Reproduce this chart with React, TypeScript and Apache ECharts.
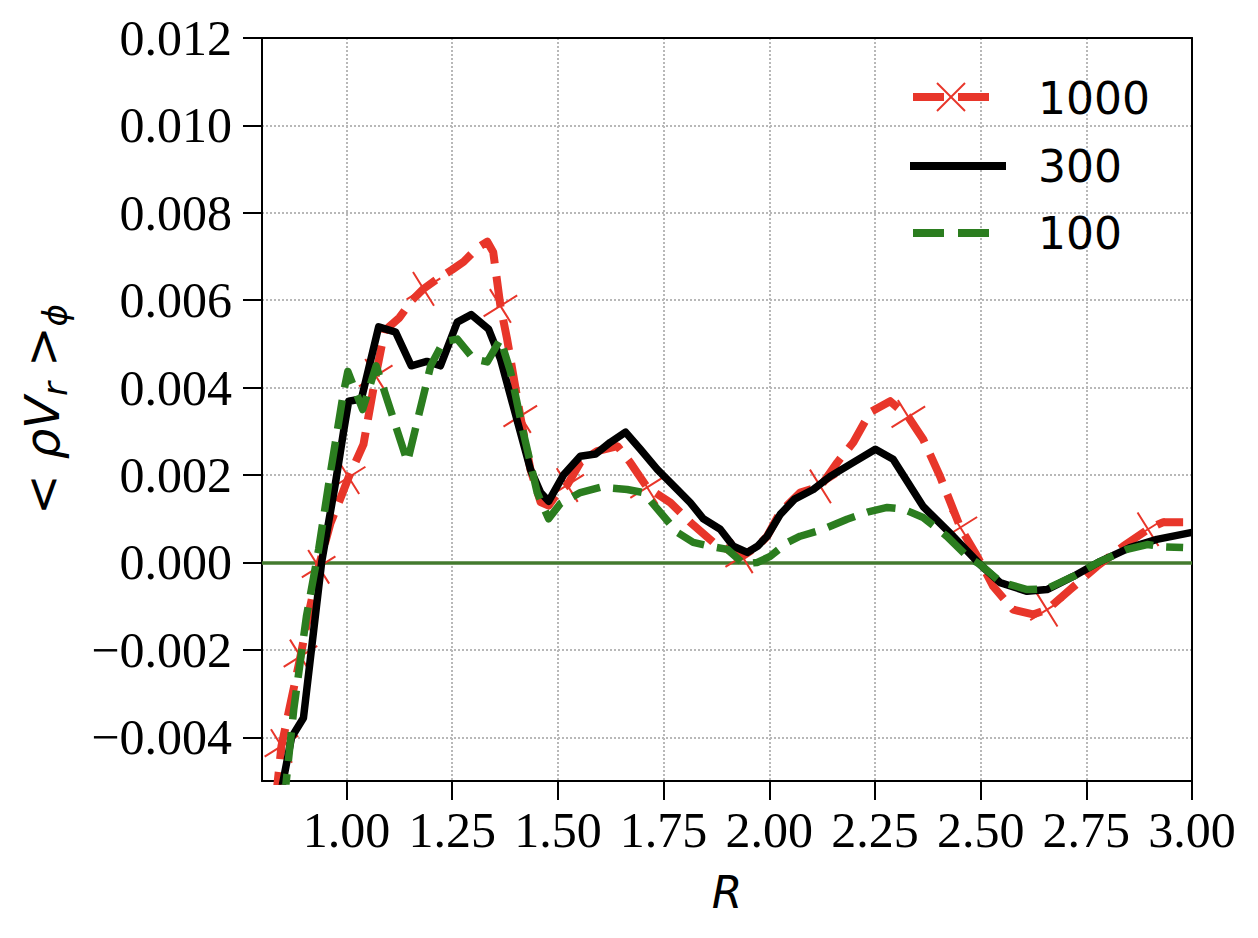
import React, { useEffect, useRef } from "react";
import * as echarts from "echarts";

const seriesNames = ["1000", "300", "100"];
const xTicks = [1.0, 1.25, 1.5, 1.75, 2.0, 2.25, 2.5, 2.75, 3.0];
const yTicks = [-0.004, -0.002, 0, 0.002, 0.004, 0.006, 0.008, 0.01, 0.012];

const s1000: [number, number][] = [
  [0.832, -0.0055], [0.846, -0.0042], [0.868, -0.0032], [0.891, -0.00215], [0.912, -0.0011],
  [0.934, -0.0001], [0.962, 0.0009], [0.985, 0.00145], [1.005, 0.00195], [1.04, 0.0027],
  [1.069, 0.00427], [1.09, 0.0053], [1.125, 0.0056], [1.155, 0.006], [1.182, 0.00626],
  [1.215, 0.00649], [1.25, 0.0067], [1.277, 0.00688], [1.31, 0.0072], [1.333, 0.00734],
  [1.347, 0.0071], [1.364, 0.00587], [1.38, 0.0051], [1.411, 0.00335], [1.435, 0.00213],
  [1.459, 0.00138], [1.478, 0.0013], [1.5, 0.0016], [1.522, 0.00177], [1.553, 0.00229],
  [1.593, 0.00255], [1.641, 0.00266], [1.671, 0.00229], [1.711, 0.00172], [1.766, 0.00137],
  [1.813, 0.00092], [1.868, 0.00046], [1.915, 0.00023], [1.936, 0.00014], [1.972, 0.00037],
  [1.995, 0.0006], [2.026, 0.00115], [2.073, 0.0016], [2.121, 0.00174], [2.161, 0.00229],
  [2.199, 0.00275], [2.239, 0.00344], [2.286, 0.00369], [2.329, 0.00333], [2.364, 0.00282],
  [2.404, 0.00197], [2.452, 0.0008], [2.492, 0.00014], [2.53, -0.00055], [2.577, -0.00108],
  [2.624, -0.00119], [2.657, -0.00108], [2.712, -0.00062], [2.775, -0.00009], [2.837, 0.00037],
  [2.896, 0.00076], [2.931, 0.00092], [2.979, 0.00092],
];
const s1000Markers = [1, 3, 5, 8, 10, 14, 21, 23, 28, 33, 38, 43, 48, 51, 56, 60];

const s300: [number, number][] = [
  [0.84, -0.0055], [0.87, -0.004], [0.898, -0.00356], [0.941, 0.0], [0.974, 0.00183],
  [0.993, 0.003], [1.005, 0.00369], [1.035, 0.00374], [1.076, 0.00539], [1.116, 0.00527],
  [1.153, 0.0045], [1.19, 0.0046], [1.222, 0.0045], [1.262, 0.0055], [1.295, 0.00567],
  [1.336, 0.00534], [1.364, 0.00466], [1.435, 0.00213], [1.459, 0.0016], [1.478, 0.0014],
  [1.513, 0.002], [1.553, 0.00243], [1.589, 0.00248], [1.624, 0.00275], [1.66, 0.00298],
  [1.695, 0.00259], [1.735, 0.00213], [1.782, 0.00167], [1.813, 0.00137], [1.844, 0.001],
  [1.884, 0.00076], [1.915, 0.00037], [1.948, 0.00023], [1.972, 0.00037], [1.995, 0.0006],
  [2.026, 0.0011], [2.06, 0.00145], [2.104, 0.00167], [2.144, 0.00197], [2.199, 0.00229],
  [2.251, 0.00259], [2.293, 0.00236], [2.364, 0.00128], [2.435, 0.0006], [2.499, -0.00005],
  [2.546, -0.00046], [2.61, -0.00066], [2.657, -0.00062], [2.719, -0.00032], [2.782, 0.00002],
  [2.853, 0.00034], [2.917, 0.00053], [3.0, 0.00069],
];

const s100: [number, number][] = [
  [0.852, -0.0055], [0.875, -0.00337], [0.905, -0.00124], [0.934, 0.0003], [0.962, 0.00206],
  [0.993, 0.0039], [1.003, 0.00437], [1.038, 0.0035], [1.07, 0.0045], [1.144, 0.0023],
  [1.199, 0.0045], [1.229, 0.00505], [1.262, 0.00511], [1.3, 0.00466], [1.333, 0.00459],
  [1.364, 0.00511], [1.388, 0.00436], [1.418, 0.00298], [1.451, 0.0016], [1.478, 0.001],
  [1.506, 0.00135], [1.553, 0.0016], [1.6, 0.00172], [1.664, 0.00167], [1.702, 0.0016],
  [1.742, 0.00115], [1.782, 0.00069], [1.82, 0.00046], [1.86, 0.00037], [1.901, 0.0003],
  [1.939, -0.00003], [1.972, 0.0], [2.002, 0.00014], [2.043, 0.00046], [2.073, 0.0006],
  [2.128, 0.00076], [2.184, 0.00099], [2.232, 0.00115], [2.279, 0.00126], [2.317, 0.00122],
  [2.364, 0.00103], [2.42, 0.0006], [2.468, 0.00014], [2.499, -0.00005], [2.546, -0.00044],
  [2.61, -0.00062], [2.657, -0.0006], [2.719, -0.00032], [2.782, 0.00002], [2.846, 0.0003],
  [2.894, 0.00041], [2.931, 0.00036], [2.979, 0.00034],
];

const zeroLine = [0];

const RED = "#e8362a";
const BLACK = "#000000";
const GREEN = "#2b7d1f";
const ZERO = "#437a2e";
const GRID = "#b8b8b8";
const X_SYMBOL = "path://M0,0L10,10M10,0L0,10";

const fmtY = (v: number) => {
  const s = Math.abs(v).toFixed(3);
  return v < -1e-12 ? "\u2212" + s : s;
};

export default function App() {
  const ref = useRef<HTMLDivElement>(null);
  useEffect(() => {
    if (!ref.current) return;
    const chart = echarts.init(ref.current, null, { renderer: "svg" });
    const tickFont = { fontFamily: "Liberation Serif", fontSize: 50, color: "#000" };
    const legendFont = '44px "DejaVu Sans"';
    const spineOnly = {
      axisLine: { show: true, onZero: false, lineStyle: { color: "#000", width: 2 } },
      axisTick: { show: false },
      axisLabel: { show: false },
      splitLine: { show: false },
    };
    chart.setOption({
      animation: false,
      backgroundColor: "#fff",
      grid: {
        left: 262,
        right: 66,
        top: 38,
        bottom: 157,
        show: false,
      },
      xAxis: [
        {
          type: "value",
          min: 0.8,
          max: 3.0,
          name: "R",
          nameLocation: "middle",
          nameGap: 89,
          nameTextStyle: { fontFamily: "DejaVu Sans", fontSize: 44, fontStyle: "italic", color: "#000" },
          axisLine: { show: true, onZero: false, lineStyle: { color: "#000", width: 2 } },
          axisTick: { show: true, inside: false, length: 19, lineStyle: { color: "#000", width: 2 }, customValues: xTicks },
          axisLabel: { ...tickFont, margin: 24, customValues: xTicks, formatter: (v: number) => v.toFixed(2) },
          splitLine: { show: true, lineStyle: { color: GRID, width: 2, type: [2, 2] } },
        },
        { type: "value", position: "top", min: 0.8, max: 3.0, ...spineOnly },
      ],
      yAxis: [
        {
          type: "value",
          min: -0.005,
          max: 0.012,
          name: "{u|< }{i|ρV}{s|r}{u| >}{s|ϕ}",
          nameLocation: "middle",
          nameGap: 190,
          nameRotate: 90,
          nameTextStyle: {
            fontFamily: "DejaVu Sans",
            fontSize: 48,
            color: "#000",
            rich: {
              u: { fontFamily: "DejaVu Sans", fontSize: 48, lineHeight: 60, color: "#000" },
              i: { fontFamily: "DejaVu Sans", fontSize: 48, fontStyle: "italic", lineHeight: 60, color: "#000" },
              s: { fontFamily: "DejaVu Sans", fontSize: 34, fontStyle: "italic", lineHeight: 34, verticalAlign: "bottom", color: "#000" },
            },
          },
          axisLine: { show: true, onZero: false, lineStyle: { color: "#000", width: 2 } },
          axisTick: { show: true, inside: false, length: 19, lineStyle: { color: "#000", width: 2 }, customValues: yTicks },
          axisLabel: { ...tickFont, margin: 30, customValues: yTicks, formatter: fmtY },
          splitLine: { show: true, lineStyle: { color: GRID, width: 2, type: [2, 2] } },
        },
        { type: "value", position: "right", min: -0.005, max: 0.012, ...spineOnly },
      ],
      series: [
        {
          name: seriesNames[0],
          type: "line",
          z: 3,
          data: s1000.map((p, i) => (s1000Markers.includes(i) ? { value: p } : { value: p, symbol: "none" })),
          symbol: X_SYMBOL,
          symbolSize: 28,
          symbolRotate: -13,
          showSymbol: true,
          itemStyle: { color: RED, borderColor: RED, borderWidth: 2 },
          lineStyle: { color: RED, width: 8, type: [31, 13], cap: "butt", join: "round" },
          markLine: {
            silent: true,
            z: 1,
            symbol: ["none", "none"],
            label: { show: false },
            lineStyle: { color: ZERO, width: 3.5, type: "solid" },
            data: zeroLine.map((v) => ({ yAxis: v })),
          },
        },
        {
          name: seriesNames[1],
          type: "line",
          z: 4,
          data: s300,
          symbol: "none",
          lineStyle: { color: BLACK, width: 7.5, type: "solid", cap: "butt", join: "round" },
        },
        {
          name: seriesNames[2],
          type: "line",
          z: 5,
          data: s100,
          symbol: "none",
          lineStyle: { color: GREEN, width: 7.5, type: [29, 13], cap: "butt", join: "round" },
        },
      ],
      graphic: [
        { type: "line", z: 100, shape: { x1: 913, y1: 97, x2: 989, y2: 97 }, style: { stroke: RED, lineWidth: 8, lineDash: [31, 14] } },
        { type: "line", z: 101, shape: { x1: 937, y1: 83, x2: 965, y2: 111 }, style: { stroke: RED, lineWidth: 2 } },
        { type: "line", z: 101, shape: { x1: 937, y1: 111, x2: 965, y2: 83 }, style: { stroke: RED, lineWidth: 2 } },
        { type: "text", z: 100, x: 1038, y: 98, style: { text: seriesNames[0], font: legendFont, fill: "#000", verticalAlign: "middle" } },
        { type: "line", z: 100, shape: { x1: 910, y1: 166, x2: 1006, y2: 166 }, style: { stroke: BLACK, lineWidth: 8 } },
        { type: "text", z: 100, x: 1038, y: 166, style: { text: seriesNames[1], font: legendFont, fill: "#000", verticalAlign: "middle" } },
        { type: "line", z: 100, shape: { x1: 913, y1: 233, x2: 989, y2: 233 }, style: { stroke: GREEN, lineWidth: 8, lineDash: [31, 14] } },
        { type: "text", z: 100, x: 1038, y: 233, style: { text: seriesNames[2], font: legendFont, fill: "#000", verticalAlign: "middle" } },
      ],
    });
    return () => chart.dispose();
  }, []);
  return <div ref={ref} style={{ width: 1258, height: 938, position: "absolute", left: 0, top: 0 }} />;
}
